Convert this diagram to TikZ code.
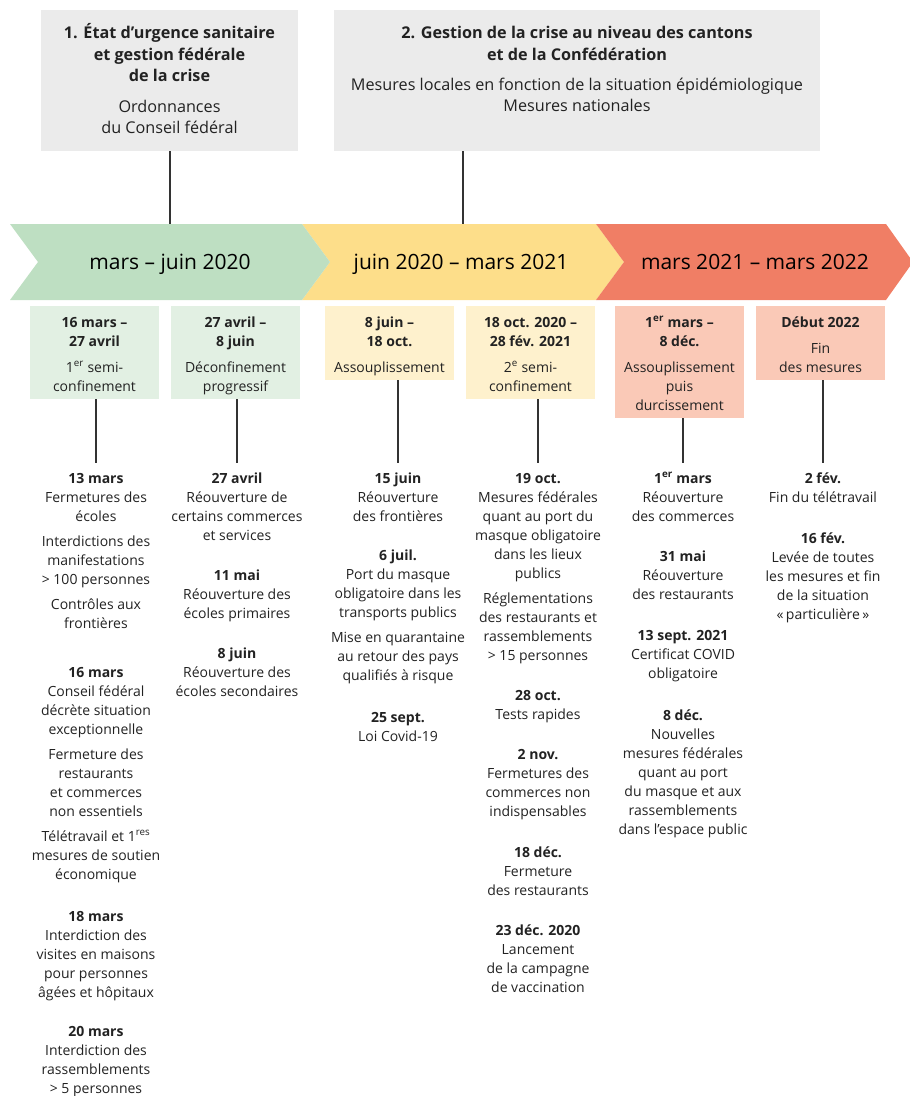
\documentclass[tikz,border=0pt]{standalone}
\usepackage{fontspec}
\setmainfont{Open Sans}
\definecolor{boxgray}{HTML}{EBEBEB}
\definecolor{chgreen}{HTML}{BEDFC2}
\definecolor{chyellow}{HTML}{FDDE8A}
\definecolor{chred}{HTML}{F07E65}
\definecolor{lgreen}{HTML}{E2F0E3}
\definecolor{lyellow}{HTML}{FEF1CD}
\definecolor{lred}{HTML}{FAC9B7}
\definecolor{txt}{HTML}{222222}
\definecolor{linec}{HTML}{333333}
\begin{document}
\begin{tikzpicture}[x=1pt,y=-1pt,
  evt/.style={anchor=north, align=center, inner sep=0pt, font=\fontsize{14}{19}\selectfont, text=txt},
  ptxt/.style={anchor=north, align=center, inner sep=0pt, font=\fontsize{14}{19}\selectfont, text=txt},
  gtxt/.style={anchor=north, align=center, inner sep=0pt, font=\fontsize{16.2}{21.5}\selectfont, text=txt},
  rect/.style={anchor=north west, inner sep=0pt, draw=none},
  chlab/.style={anchor=base, inner sep=0pt, font=\fontsize{21}{24}\selectfont, text=black},
  conn/.style={draw=linec, line width=1.3pt}
]
\useasboundingbox (0,0) rectangle (910,1096);

% top gray boxes
\node[rect, fill=boxgray, minimum width=257pt, minimum height=141pt] (gb1) at (41,10) {};
\node[rect, fill=boxgray, minimum width=486pt, minimum height=141pt] (gb2) at (334,10) {};
\node[gtxt] (gt1) at (169.5,23.6) {\strut\textbf{1. État d’urgence sanitaire}\\\textbf{et gestion fédérale}\\\textbf{de la crise}\\[9pt]Ordonnances\\du Conseil fédéral};
\node[gtxt] (gt2) at (577,23.6) {\strut\textbf{2. Gestion de la crise au niveau des cantons}\\\textbf{et de la Confédération}\\[8.5pt]Mesures locales en fonction de la situation épidémiologique\\Mesures nationales};

% chevrons
\fill[chyellow] (302,224) -- (596,224) -- (624,262) -- (596,300) -- (302,300) -- (330,262) -- cycle;
\fill[chred] (596,224) -- (886,224) -- (913,262) -- (886,300) -- (596,300) -- (624,262) -- cycle;
\fill[chgreen] (10,224) -- (302,224) -- (330,262) -- (302,300) -- (10,300) -- (38,262) -- cycle;
\node[chlab] (c1) at (170,269.5) {mars – juin 2020};
\node[chlab] (c2) at (461,269.5) {juin 2020 – mars 2021};
\node[chlab] (c3) at (755,269.5) {mars 2021 – mars 2022};

\coordinate (a1) at (170,224);
\coordinate (a2) at (463,224);
\draw[conn] (a1 |- gb1.south) -- (a1);
\draw[conn] (a2 |- gb2.south) -- (a2);

% period boxes
\node[rect, fill=lgreen, minimum width=129pt, minimum height=93pt] (g1b) at (30,306) {};
\node[rect, fill=lgreen, minimum width=129pt, minimum height=93pt] (g2b) at (171,306) {};
\node[rect, fill=lyellow, minimum width=129pt, minimum height=74pt] (y1b) at (325,306) {};
\node[rect, fill=lyellow, minimum width=129pt, minimum height=93pt] (y2b) at (466,306) {};
\node[rect, fill=lred, minimum width=129pt, minimum height=112pt] (r1b) at (615,306) {};
\node[rect, fill=lred, minimum width=129pt, minimum height=74pt] (r2b) at (756,306) {};

\node[ptxt] (g1t) at (94.5,313.5) {\strut\textbf{16 mars –}\\\textbf{27 avril}\\[7pt]1\textsuperscript{er} semi-\\confinement};
\node[ptxt] (g2t) at (235.5,313.5) {\strut\textbf{27 avril –}\\\textbf{8 juin}\\[7pt]Déconfinement\\progressif};
\node[ptxt] (y1t) at (389.5,313.5) {\strut\textbf{8 juin –}\\\textbf{18 oct.}\\[7pt]Assouplissement};
\node[ptxt] (y2t) at (530.5,313.5) {\strut\textbf{18 oct. 2020 –}\\\textbf{28 fév. 2021}\\[7pt]2\textsuperscript{e} semi-\\confinement};
\node[ptxt] (r1t) at (679.5,313.5) {\strut\textbf{1\textsuperscript{er} mars –}\\\textbf{8 déc.}\\[7pt]Assouplissement\\puis\\durcissement};
\node[ptxt] (r2t) at (820.5,313.5) {\strut\textbf{Début 2022}\\[7pt]Fin\\des mesures};

% events column 1
\node[evt] (e11) at (96,469.5) {\strut\textbf{13 mars}\\Fermetures des\\écoles\\[6pt]Interdictions des\\manifestations\\> 100 personnes\\[6pt]Contrôles aux\\frontières};
\node[evt] (e12) at (96,663.5) {\strut\textbf{16 mars}\\Conseil fédéral\\décrète situation\\exceptionnelle\\[6pt]Fermeture des\\restaurants\\et commerces\\non essentiels\\[6pt]Télétravail et 1\textsuperscript{res}\\mesures de soutien\\économique};
\node[evt] (e13) at (96,907.5) {\strut\textbf{18 mars}\\Interdiction des\\visites en maisons\\pour personnes\\âgées et hôpitaux};
\node[evt] (e14) at (96,1023) {\strut\textbf{20 mars}\\Interdiction des\\rassemblements\\> 5 personnes};

% column 2
\node[evt] (e21) at (237,469.5) {\strut\textbf{27 avril}\\Réouverture de\\certains commerces\\et services};
\node[evt] (e22) at (237,566.5) {\strut\textbf{11 mai}\\Réouverture des\\écoles primaires};
\node[evt] (e23) at (237,644.5) {\strut\textbf{8 juin}\\Réouverture des\\écoles secondaires};

% column 3
\node[evt] (e31) at (398,469.5) {\strut\textbf{15 juin}\\Réouverture\\des frontières};
\node[evt] (e32) at (398,546.5) {\strut\textbf{6 juil.}\\Port du masque\\obligatoire dans les\\transports publics\\[6pt]Mise en quarantaine\\au retour des pays\\qualifiés à risque};
\node[evt] (e33) at (398,708.5) {\strut\textbf{25 sept.}\\Loi Covid-19};

% column 4
\node[evt] (e41) at (538,469.5) {\strut\textbf{19 oct.}\\Mesures fédérales\\quant au port du\\masque obligatoire\\dans les lieux\\publics\\[6pt]Réglementations\\des restaurants et\\rassemblements\\> 15 personnes};
\node[evt] (e42) at (538,686.5) {\strut\textbf{28 oct.}\\Tests rapides};
\node[evt] (e43) at (538,745.5) {\strut\textbf{2 nov.}\\Fermetures des\\commerces non\\indispensables};
\node[evt] (e44) at (538,843.5) {\strut\textbf{18 déc.}\\Fermeture\\des restaurants};
\node[evt] (e45) at (538,921.5) {\strut\textbf{23 déc. 2020}\\Lancement\\de la campagne\\de vaccination};

% column 5
\node[evt] (e51) at (683,469.5) {\strut\textbf{1\textsuperscript{er} mars}\\Réouverture\\des commerces};
\node[evt] (e52) at (683,547.5) {\strut\textbf{31 mai}\\Réouverture\\des restaurants};
\node[evt] (e53) at (683,626.5) {\strut\textbf{13 sept. 2021}\\Certificat COVID\\obligatoire};
\node[evt] (e54) at (683,706.5) {\strut\textbf{8 déc.}\\Nouvelles\\mesures fédérales\\quant au port\\du masque et aux\\rassemblements\\dans l’espace public};

% column 6
\node[evt] (e61) at (823,469.5) {\strut\textbf{2 fév.}\\Fin du télétravail};
\node[evt] (e62) at (823,529.5) {\strut\textbf{16 fév.}\\Levée de toutes\\les mesures et fin\\de la situation\\«\,particulière\,»};

% connectors from period boxes
\draw[conn] (e11.north |- g1b.south) -- ([yshift=6.5pt]e11.north);
\draw[conn] (e21.north |- g2b.south) -- ([yshift=6.5pt]e21.north);
\draw[conn] (e31.north |- y1b.south) -- ([yshift=6.5pt]e31.north);
\draw[conn] (e41.north |- y2b.south) -- ([yshift=6.5pt]e41.north);
\draw[conn] (e51.north |- r1b.south) -- ([yshift=6.5pt]e51.north);
\draw[conn] (e61.north |- r2b.south) -- ([yshift=6.5pt]e61.north);
\end{tikzpicture}
\end{document}
